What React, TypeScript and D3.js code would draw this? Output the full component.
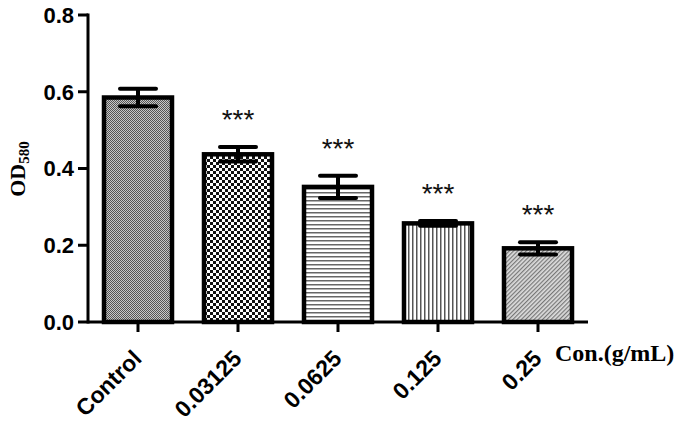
import React from 'react';
import * as d3 from 'd3';

const categories = ['Control', '0.03125', '0.0625', '0.125', '0.25'];
const means = [0.585, 0.437, 0.352, 0.257, 0.192];
const errors = [0.023, 0.019, 0.029, 0.006, 0.016];
const stars = ['', '***', '***', '***', '***'];
const yTicks = [0, 0.2, 0.4, 0.6, 0.8];
const patterns = ['fineCheck', 'coarseCheck', 'hLines', 'vLines', 'diagLines'];

const width = 683;
const height = 421;
const margin = { top: 15, right: 95, bottom: 99, left: 88 };

const App = () => {
  const x = d3.scaleBand()
    .domain(categories)
    .range([margin.left, width - margin.right])
    .paddingInner(0.32)
    .paddingOuter(0.16);

  const y = d3.scaleLinear()
    .domain([0, 0.8])
    .range([height - margin.bottom, margin.top]);

  const y0 = y(0);
  const capW = 36;

  return (
    <div style={{ position: 'absolute', left: 0, top: 0 }}>
      <svg width={width} height={height} style={{ display: 'block', background: '#fff' }}>
        <defs>
          <pattern id="fineCheck" width="2" height="2" patternUnits="userSpaceOnUse">
            <rect width="2" height="2" fill="#c8c8c8" />
            <rect width="1" height="1" fill="#555" />
            <rect x="1" y="1" width="1" height="1" fill="#555" />
          </pattern>
          <pattern id="coarseCheck" width="6" height="6" patternUnits="userSpaceOnUse">
            <rect width="6" height="6" fill="#fff" />
            <rect width="3" height="3" fill="#111" />
            <rect x="3" y="3" width="3" height="3" fill="#111" />
          </pattern>
          <pattern id="hLines" width="4" height="4" patternUnits="userSpaceOnUse">
            <rect width="4" height="4" fill="#fff" />
            <rect y="0" width="4" height="1.5" fill="#666" />
          </pattern>
          <pattern id="vLines" width="4" height="4" patternUnits="userSpaceOnUse">
            <rect width="4" height="4" fill="#fff" />
            <rect x="0" width="1.5" height="4" fill="#555" />
          </pattern>
          <pattern id="diagLines" width="3" height="3" patternUnits="userSpaceOnUse" patternTransform="rotate(45)">
            <rect width="3" height="3" fill="#ddd" />
            <rect width="1.2" height="3" fill="#777" />
          </pattern>
        </defs>

        {categories.map((c, i) => {
          const bx = x(c)!;
          const bw = x.bandwidth();
          const cx = bx + bw / 2;
          const top = y(means[i]);
          const eTop = y(means[i] + errors[i]);
          const eBot = y(means[i] - errors[i]);
          return (
            <g key={c}>
              <rect x={bx} y={top} width={bw} height={y0 - top}
                fill={`url(#${patterns[i]})`} stroke="#000" strokeWidth={4.5} />
              <line x1={cx} x2={cx} y1={eTop} y2={eBot} stroke="#000" strokeWidth={4} />
              <line x1={cx - capW / 2} x2={cx + capW / 2} y1={eTop} y2={eTop}
                stroke="#000" strokeWidth={4} strokeLinecap="round" />
              <line x1={cx - capW / 2} x2={cx + capW / 2} y1={eBot} y2={eBot}
                stroke="#000" strokeWidth={4} strokeLinecap="round" />
              {stars[i] && (
                <text x={cx} y={eTop - 18} textAnchor="middle"
                  fontFamily="Liberation Sans, Arial, sans-serif" fontSize={28}
                  fill="#111">{stars[i]}</text>
              )}
            </g>
          );
        })}

        {/* y axis */}
        <line x1={margin.left} x2={margin.left} y1={margin.top - 1.5} y2={y0 + 1.5}
          stroke="#000" strokeWidth={3} />
        {yTicks.map(t => (
          <g key={t}>
            <line x1={margin.left - 10} x2={margin.left} y1={y(t)} y2={y(t)} stroke="#000" strokeWidth={3} />
            <text x={margin.left - 14} y={y(t)} dy="0.36em" textAnchor="end"
              fontFamily="Liberation Sans, Arial, sans-serif" fontWeight="bold" fontSize={22}>
              {t.toFixed(1)}
            </text>
          </g>
        ))}

        {/* x axis */}
        <line x1={margin.left} x2={width - margin.right} y1={y0} y2={y0} stroke="#000" strokeWidth={3} />
        {categories.map(c => {
          const cx = x(c)! + x.bandwidth() / 2;
          return (
            <g key={c}>
              <line x1={cx} x2={cx} y1={y0} y2={y0 + 10} stroke="#000" strokeWidth={3} />
              <text transform={`translate(${cx + 5},${y0 + 38}) rotate(-45)`} textAnchor="end"
                fontFamily="Liberation Sans, Arial, sans-serif" fontWeight="bold" fontSize={23}>
                {c}
              </text>
            </g>
          );
        })}

        <text x={555} y={361} fontFamily="Liberation Serif, Times New Roman, serif"
          fontWeight="bold" fontSize={24}>Con.(g/mL)</text>

        <text transform={`translate(25,169) rotate(-90)`} textAnchor="middle"
          fontFamily="Liberation Serif, Times New Roman, serif" fontWeight="bold" fontSize={22}>
          OD<tspan fontSize={15} dy="4">580</tspan>
        </text>
      </svg>
    </div>
  );
};

export default App;
